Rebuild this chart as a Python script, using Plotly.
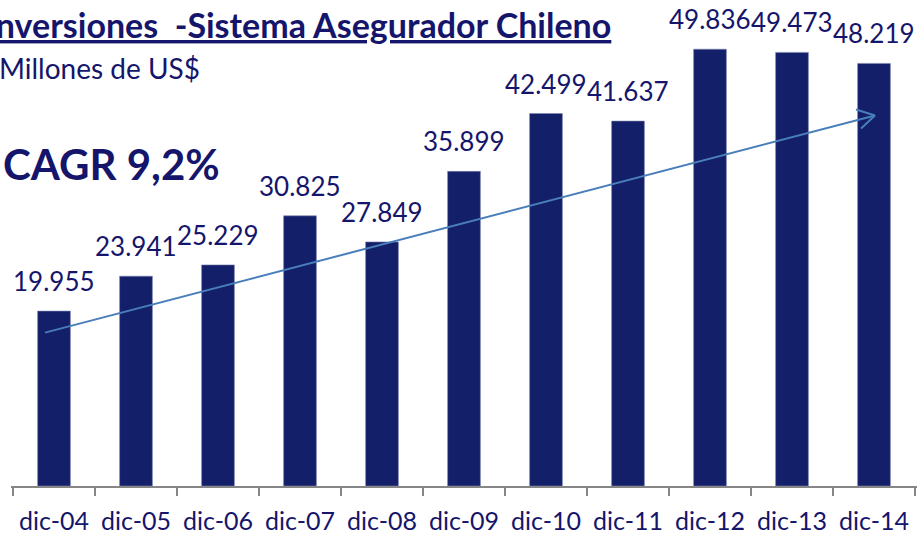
import plotly.graph_objects as go

categories = ["dic-04", "dic-05", "dic-06", "dic-07", "dic-08", "dic-09",
              "dic-10", "dic-11", "dic-12", "dic-13", "dic-14"]
values = [19955, 23941, 25229, 30825, 27849, 35899, 42499, 41637, 49836, 49473, 48219]
value_labels = [f"{v:,}".replace(",", ".") for v in values]

title_text = "Inversiones  -Sistema Asegurador Chileno"
subtitle_text = "Millones de US$"
cagr_text = "CAGR 9,2%"

W, H = 920, 535
ML, MR, MT, MB = 11, 3, 0, 47
PW, PH = W - ML - MR, H - MT - MB

def px(x):
    return (x - ML) / PW

def py(y):
    return (H - MB - y) / PH

NAVY = "#131F69"
TXT = "#15156B"
FONT = "Lato"

fig = go.Figure()
fig.add_trace(go.Bar(
    x=categories, y=values,
    marker=dict(color=NAVY, line=dict(color="#7f86b0", width=0.6)),
    hoverinfo="skip",
))

annotations = []
for c, v, t in zip(categories, values, value_labels):
    annotations.append(dict(x=c, y=v, xref="x", yref="y", text=t, showarrow=False,
                            yanchor="bottom", yshift=12,
                            font=dict(family=FONT, size=26, color=TXT)))

annotations += [
    dict(x=px(613), y=py(25), xref="paper", yref="paper", xanchor="right", yanchor="middle",
         text="<b><u>" + title_text + "</u></b>", showarrow=False,
         font=dict(family=FONT, size=34, color=TXT)),
    dict(x=px(-3), y=py(68), xref="paper", yref="paper", xanchor="left", yanchor="middle",
         text=subtitle_text, showarrow=False,
         font=dict(family=FONT, size=28, color=TXT)),
    dict(x=px(1), y=py(165), xref="paper", yref="paper", xanchor="left", yanchor="middle",
         text="<b>" + cagr_text + "</b>", showarrow=False,
         font=dict(family=FONT, size=42, color=TXT)),
]

ARROW = "#4A7EBB"
shapes = [
    dict(type="line", xref="paper", yref="paper", x0=px(45), y0=py(334), x1=px(875), y1=py(116),
         line=dict(color=ARROW, width=2)),
    dict(type="line", xref="paper", yref="paper", x0=px(856), y0=py(110), x1=px(875), y1=py(116),
         line=dict(color=ARROW, width=2)),
    dict(type="line", xref="paper", yref="paper", x0=px(861), y0=py(129), x1=px(875), y1=py(116),
         line=dict(color=ARROW, width=2)),
]

fig.update_layout(
    width=W, height=H,
    margin=dict(l=ML, r=MR, t=MT, b=MB),
    paper_bgcolor="white", plot_bgcolor="white",
    showlegend=False,
    bargap=0.6,
    separators=",.",
    annotations=annotations,
    shapes=shapes,
    xaxis=dict(
        showline=True, linecolor="#868686", linewidth=1.5,
        ticks="outside", tickson="boundaries", ticklen=8, tickcolor="#868686", tickwidth=1.5,
        tickfont=dict(family=FONT, size=25, color=TXT),
        ticklabelstandoff=12,
        showgrid=False, fixedrange=True,
    ),
    yaxis=dict(range=[0, 55450], visible=False, showgrid=False, fixedrange=True),
)

fig.write_html("out.html", config={"displayModeBar": False},
               post_script="document.body.style.margin='0';")
